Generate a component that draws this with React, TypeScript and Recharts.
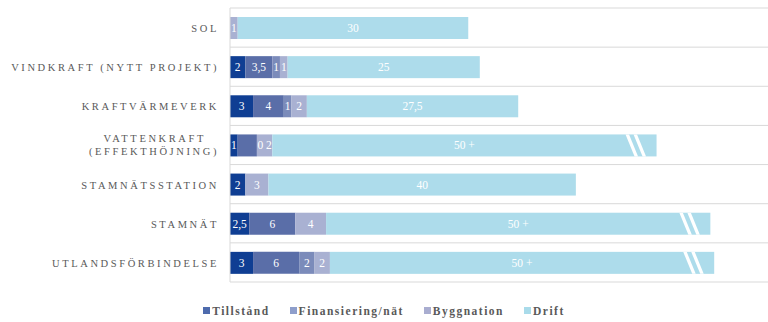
import React from "react";
import { BarChart, Bar, XAxis, YAxis, CartesianGrid, Legend, LabelList } from "recharts";

const categories = [
  "SOL",
  "VINDKRAFT (NYTT PROJEKT)",
  "KRAFTVÄRMEVERK",
  "VATTENKRAFT\n(EFFEKTHÖJNING)",
  "STAMNÄTSSTATION",
  "STAMNÄT",
  "UTLANDSFÖRBINDELSE",
];

const tillstand = [0, 2, 3, 1, 2, 2.5, 3];
const finansiering = [0, 3.5, 4, 2.5, 0, 6, 6];
const nat = [0, 1, 1, 0, 0, 0, 2];
const byggnation = [1, 1, 2, 2, 3, 4, 2];
const drift = [30, 25, 27.5, 50, 40, 50, 50];

const tillstandLabels = ["", "2", "3", "1", "2", "2,5", "3"];
const finansieringLabels = ["", "3,5", "4", "", "", "6", "6"];
const natLabels = ["", "1", "1", "", "", "", "2"];
const byggnationLabels = ["1", "1", "2", "0 2", "3", "4", "2"];
const driftLabels = ["30", "25", "27,5", "50 +", "40", "50 +", "50 +"];
const driftOpenEnded = [false, false, false, true, false, true, true];

const legendNames = ["Tillstånd", "Finansiering/nät", "Byggnation", "Drift"];
const legendColors = ["#4E6BAD", "#8E9ECB", "#A9ADD0", "#A9DBEA"];

const COLORS = {
  tillstand: "#0F3E93",
  finansiering: "#5A6EA8",
  nat: "#7B8BBA",
  byggnation: "#A9B1D2",
  drift: "#ADDCEB",
};

const SERIF = "'Liberation Serif', 'Times New Roman', serif";

const data = categories.map((name, i) => ({
  name,
  tillstand: tillstand[i],
  finansiering: finansiering[i],
  nat: nat[i],
  byggnation: byggnation[i],
  drift: drift[i],
  tillstandLabel: tillstandLabels[i],
  finansieringLabel: finansieringLabels[i],
  natLabel: natLabels[i],
  byggnationLabel: byggnationLabels[i],
  driftLabel: driftLabels[i],
  open: driftOpenEnded[i],
}));

const CategoryTick = (props: any) => {
  const { x, y, payload } = props;
  const lines = String(payload.value).split("\n");
  const endX = x - 3;
  const style = {
    fontFamily: SERIF,
    fontSize: 10.5,
    letterSpacing: 2.6,
    fill: "#595959",
  } as any;
  if (lines.length === 1) {
    return (
      <text x={endX} y={y + 4.5} textAnchor="end" style={style}>
        {lines[0]}
      </text>
    );
  }
  return (
    <g>
      <text x={endX - 13} y={y - 3} textAnchor="end" style={style}>
        {lines[0]}
      </text>
      <text x={endX} y={y + 10} textAnchor="end" style={style}>
        {lines[1]}
      </text>
    </g>
  );
};

const SegmentLabel = (props: any) => {
  const { x, y, width, height, value } = props;
  if (value === undefined || value === null || value === "") return null;
  return (
    <text
      x={Number(x) + Number(width) / 2}
      y={Number(y) + Number(height) / 2 + 4}
      textAnchor="middle"
      style={{ fontFamily: SERIF, fontSize: 11.5, fill: "#FFFFFF" }}
    >
      {value}
    </text>
  );
};

const DriftShape = (props: any) => {
  const { x, y, width, height, fill, payload } = props;
  const end = x + width;
  const slant = 9;
  const sw = 3.5;
  return (
    <g>
      <rect x={x} y={y} width={width} height={height} fill={fill} />
      {payload && payload.open
        ? [31, 23].map((d) => (
            <polygon
              key={d}
              points={`${end - d},${y} ${end - d + sw},${y} ${end - d + sw + slant},${y + height} ${end - d + slant},${y + height}`}
              fill="#FFFFFF"
            />
          ))
        : null}
    </g>
  );
};

const LegendContent = () => (
  <div
    style={{
      height: 40,
      boxSizing: "border-box",
      paddingTop: 17,
      display: "flex",
      justifyContent: "center",
      alignItems: "center",
      gap: 20,
      fontFamily: SERIF,
      fontSize: 11.5,
      fontWeight: "bold",
      letterSpacing: 1.5,
      color: "#595959",
      lineHeight: "14px",
    }}
  >
    {legendNames.map((n, i) => (
      <div key={n} style={{ display: "flex", alignItems: "center" }}>
        <span
          style={{
            display: "inline-block",
            width: 7,
            height: 7,
            background: legendColors[i],
            marginRight: 2,
          }}
        />
        <span>{n}</span>
      </div>
    ))}
  </div>
);

export default function App() {
  return (
    <div style={{ position: "absolute", left: 0, top: 0, width: 768, height: 322, background: "#fff" }}>
      <BarChart
        width={768}
        height={322}
        data={data}
        layout="vertical"
        margin={{ top: 8, right: 0, left: 0, bottom: 0 }}
        barSize={22}
      >
        <CartesianGrid
          vertical={false}
          stroke="#D9D9D9"
          horizontalCoordinatesGenerator={({ offset }: any) => {
            const n = categories.length;
            const step = offset.height / n;
            return Array.from({ length: n + 1 }, (_, i) => offset.top + i * step);
          }}
        />
        <XAxis type="number" domain={[0, 70]} hide />
        <YAxis
          type="category"
          dataKey="name"
          width={230}
          axisLine={{ stroke: "#D9D9D9" }}
          tickLine={false}
          tick={<CategoryTick />}
          interval={0}
        />
        <Legend verticalAlign="bottom" height={40} content={() => <LegendContent />} />
        <Bar dataKey="tillstand" stackId="a" fill={COLORS.tillstand} isAnimationActive={false}>
          <LabelList dataKey="tillstandLabel" content={<SegmentLabel />} />
        </Bar>
        <Bar dataKey="finansiering" stackId="a" fill={COLORS.finansiering} isAnimationActive={false}>
          <LabelList dataKey="finansieringLabel" content={<SegmentLabel />} />
        </Bar>
        <Bar dataKey="nat" stackId="a" fill={COLORS.nat} isAnimationActive={false}>
          <LabelList dataKey="natLabel" content={<SegmentLabel />} />
        </Bar>
        <Bar dataKey="byggnation" stackId="a" fill={COLORS.byggnation} isAnimationActive={false}>
          <LabelList dataKey="byggnationLabel" content={<SegmentLabel />} />
        </Bar>
        <Bar
          dataKey="drift"
          stackId="a"
          fill={COLORS.drift}
          isAnimationActive={false}
          shape={(p: any) => <DriftShape {...p} />}
        >
          <LabelList dataKey="driftLabel" content={<SegmentLabel />} />
        </Bar>
      </BarChart>
    </div>
  );
}
